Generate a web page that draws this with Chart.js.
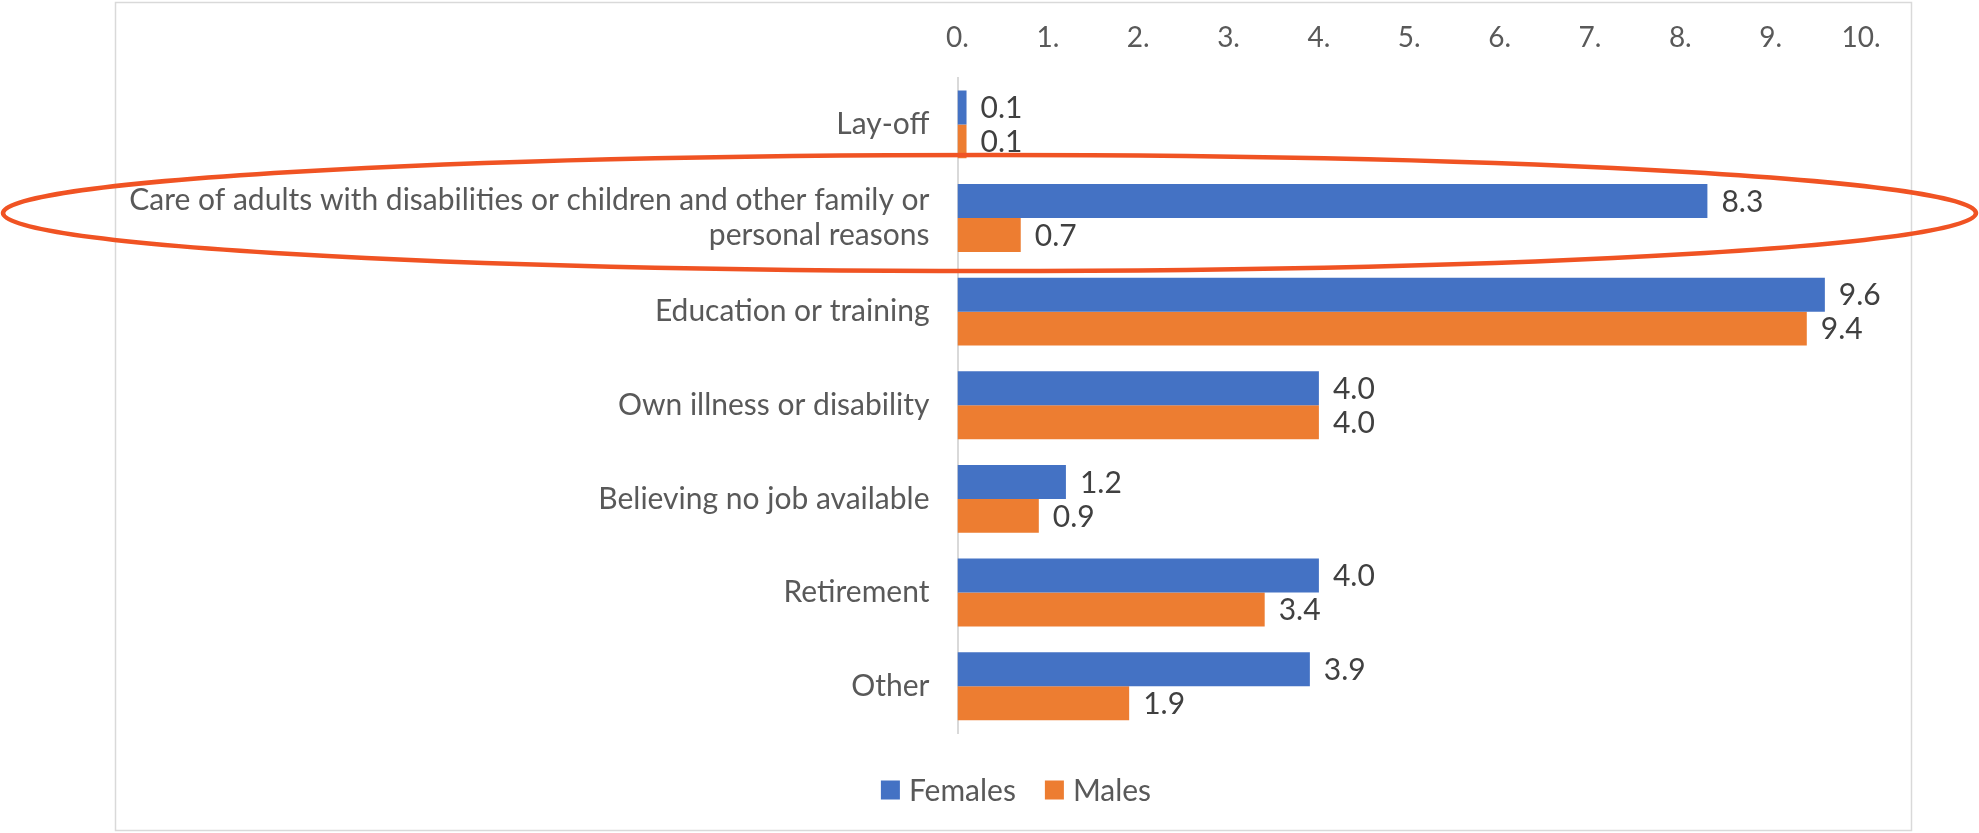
<!DOCTYPE html>
<html>
<head>
<meta charset="utf-8">
<script src="https://cdn.jsdelivr.net/npm/chart.js@4/dist/chart.umd.min.js"></script>
<style>
  html, body { margin: 0; padding: 0; background: #fff; }
  canvas { display: block; }
</style>
</head>
<body>
<canvas id="reasons" width="1979" height="833"></canvas>
<script>
// inactivity reasons, percent
const categories = [
  'Lay-off',
  ['Care of adults with disabilities or children and other family or', 'personal reasons'],
  'Education or training',
  'Own illness or disability',
  'Believing no job available',
  'Retirement',
  'Other'
];
const females = [0.1, 8.3, 9.6, 4.0, 1.2, 4.0, 3.9];
const males = [0.1, 0.7, 9.4, 4.0, 0.9, 3.4, 1.9];
const tickLabels = ['0.', '1.', '2.', '3.', '4.', '5.', '6.', '7.', '8.', '9.', '10.'];

const FONT = 'Lato, "Open Sans", sans-serif';
const GREY = '#595959';

// light frame around the plot
const frame = {
  id: 'frame',
  beforeDraw(chart) {
    const ctx = chart.ctx;
    ctx.save();
    ctx.fillStyle = '#fff';
    ctx.fillRect(0, 0, chart.width, chart.height);
    ctx.strokeStyle = '#d9d9d9';
    ctx.lineWidth = 1.5;
    ctx.strokeRect(115.5, 2.5, 1796, 828);
    ctx.restore();
  }
};

// value next to the end of each bar
const valueLabels = {
  id: 'valueLabels',
  afterDatasetsDraw(chart) {
    const ctx = chart.ctx;
    ctx.save();
    ctx.font = '30px ' + FONT;
    ctx.fillStyle = '#404040';
    ctx.textAlign = 'left';
    ctx.textBaseline = 'middle';
    chart.data.datasets.forEach((ds, i) => {
      chart.getDatasetMeta(i).data.forEach((bar, j) => {
        ctx.fillText(ds.data[j].toFixed(1), bar.x + 14, bar.y + 1);
      });
    });
    ctx.restore();
  }
};

// legend row, centred under the frame
const legendRow = {
  id: 'legendRow',
  afterDraw(chart) {
    const ctx = chart.ctx;
    ctx.save();
    ctx.font = '30px ' + FONT;
    ctx.textBaseline = 'middle';
    ctx.textAlign = 'left';
    const items = chart.data.datasets.map(ds => ({
      text: ds.label,
      color: ds.backgroundColor,
      w: 19 + 9 + ctx.measureText(ds.label).width
    }));
    const total = items.reduce((s, it) => s + it.w, 0) + 29 * (items.length - 1);
    let x = 1016 - total / 2;
    const y = 790;
    items.forEach(it => {
      ctx.fillStyle = it.color;
      ctx.fillRect(x, y - 9.5, 19, 19);
      ctx.fillStyle = GREY;
      ctx.fillText(it.text, x + 28, y + 1);
      x += it.w + 29;
    });
    ctx.restore();
  }
};

// highlight ring around the care category
const ring = {
  id: 'ring',
  afterDraw(chart) {
    const ctx = chart.ctx;
    const cy = chart.scales.y.getPixelForValue(1) - 5;
    ctx.save();
    ctx.strokeStyle = '#f05323';
    ctx.lineWidth = 4.5;
    ctx.beginPath();
    ctx.ellipse(chart.width / 2, cy, chart.width / 2 - 3, 58, 0, 0, Math.PI * 2);
    ctx.stroke();
    ctx.restore();
  }
};

const reasons_config = {
  type: 'bar',
  data: {
    labels: categories,
    datasets: [{
      label: 'Females',
      data: females,
      backgroundColor: '#4472c4',
      borderWidth: 0
    }, {
      label: 'Males',
      data: males,
      backgroundColor: '#ed7d31',
      borderWidth: 0
    }]
  },
  options: {
    indexAxis: 'y',
    responsive: false,
    animation: false,
    devicePixelRatio: 1,
    categoryPercentage: 0.725,
    barPercentage: 1,
    layout: {
      padding: { left: 0, right: 118, top: 6, bottom: 100 }
    },
    scales: {
      x: {
        position: 'top',
        min: 0,
        max: 10,
        grid: { display: false },
        border: { display: false },
        ticks: {
          stepSize: 1,
          padding: 15,
          color: GREY,
          font: { family: FONT, size: 28 },
          callback: (value, index) => tickLabels[index]
        }
      },
      y: {
        grid: { display: false },
        border: { display: true, color: '#d9d9d9', width: 2 },
        ticks: {
          padding: 20,
          color: GREY,
          font: { family: FONT, size: 30, lineHeight: 1.18 }
        },
        afterFit: (scale) => { scale.width = 957.5; }
      }
    },
    plugins: {
      legend: { display: false },
      tooltip: { enabled: false }
    }
  },
  plugins: [frame, valueLabels, legendRow, ring]
};

var reasonsChart = new Chart(
  document.getElementById('reasons'),
  reasons_config
);
</script>
</body>
</html>
